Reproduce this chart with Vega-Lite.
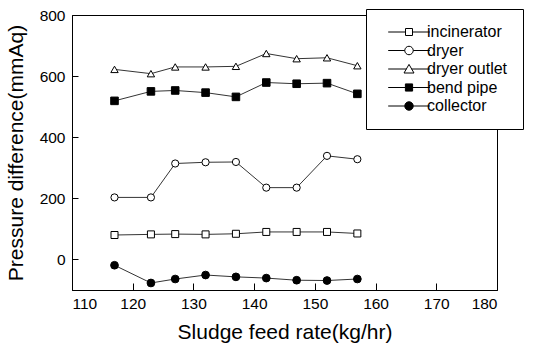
{
  "$schema": "https://vega.github.io/schema/vega-lite/v6.json",
  "width": 425,
  "height": 275,
  "autosize": "none",
  "padding": {"left": 72, "top": 15, "right": 44, "bottom": 53},
  "background": "white",
  "config": {
    "view": {"stroke": "black", "strokeWidth": 1},
    "font": "Liberation Sans"
  },
  "data": {"values": [
    {"rate": 117, "series": "incinerator", "dp": 80},
    {"rate": 123, "series": "incinerator", "dp": 82},
    {"rate": 127, "series": "incinerator", "dp": 83},
    {"rate": 132, "series": "incinerator", "dp": 82},
    {"rate": 137, "series": "incinerator", "dp": 84},
    {"rate": 142, "series": "incinerator", "dp": 90},
    {"rate": 147, "series": "incinerator", "dp": 90},
    {"rate": 152, "series": "incinerator", "dp": 90},
    {"rate": 157, "series": "incinerator", "dp": 85},
    {"rate": 117, "series": "dryer", "dp": 203},
    {"rate": 123, "series": "dryer", "dp": 203},
    {"rate": 127, "series": "dryer", "dp": 314},
    {"rate": 132, "series": "dryer", "dp": 318},
    {"rate": 137, "series": "dryer", "dp": 319},
    {"rate": 142, "series": "dryer", "dp": 235},
    {"rate": 147, "series": "dryer", "dp": 235},
    {"rate": 152, "series": "dryer", "dp": 339},
    {"rate": 157, "series": "dryer", "dp": 328},
    {"rate": 117, "series": "dryer outlet", "dp": 622},
    {"rate": 123, "series": "dryer outlet", "dp": 608},
    {"rate": 127, "series": "dryer outlet", "dp": 630},
    {"rate": 132, "series": "dryer outlet", "dp": 630},
    {"rate": 137, "series": "dryer outlet", "dp": 632},
    {"rate": 142, "series": "dryer outlet", "dp": 674},
    {"rate": 147, "series": "dryer outlet", "dp": 657},
    {"rate": 152, "series": "dryer outlet", "dp": 660},
    {"rate": 157, "series": "dryer outlet", "dp": 634},
    {"rate": 117, "series": "bend pipe", "dp": 519},
    {"rate": 123, "series": "bend pipe", "dp": 550},
    {"rate": 127, "series": "bend pipe", "dp": 553},
    {"rate": 132, "series": "bend pipe", "dp": 546},
    {"rate": 137, "series": "bend pipe", "dp": 532},
    {"rate": 142, "series": "bend pipe", "dp": 579},
    {"rate": 147, "series": "bend pipe", "dp": 575},
    {"rate": 152, "series": "bend pipe", "dp": 577},
    {"rate": 157, "series": "bend pipe", "dp": 542},
    {"rate": 117, "series": "collector", "dp": -19},
    {"rate": 123, "series": "collector", "dp": -77},
    {"rate": 127, "series": "collector", "dp": -64},
    {"rate": 132, "series": "collector", "dp": -51},
    {"rate": 137, "series": "collector", "dp": -57},
    {"rate": 142, "series": "collector", "dp": -61},
    {"rate": 147, "series": "collector", "dp": -68},
    {"rate": 152, "series": "collector", "dp": -69},
    {"rate": 157, "series": "collector", "dp": -64}
  ]},
  "encoding": {
    "x": {
      "field": "rate", "type": "quantitative",
      "scale": {"domain": [110, 180], "nice": false, "zero": false},
      "axis": {
        "values": [110, 120, 130, 140, 150, 160, 170, 180],
        "title": "Sludge feed rate(kg/hr)",
        "grid": false, "domain": true, "domainColor": "black", "zindex": 1,
        "ticks": true, "tickColor": "black", "tickWidth": 1, "tickOpacity": 1,
        "tickSize": -7, "labelPadding": 13,
        "labelFontSize": 15.5, "labelColor": "black",
        "titleFontSize": 21, "titleFontWeight": "normal", "titleColor": "black",
        "titlePadding": 10
      }
    },
    "y": {
      "field": "dp", "type": "quantitative",
      "scale": {"domain": [-100, 800], "nice": false, "zero": false},
      "axis": {
        "values": [0, 200, 400, 600, 800],
        "title": "Pressure difference(mmAq)",
        "grid": false, "domain": true, "domainColor": "black", "zindex": 1,
        "ticks": true, "tickColor": "black", "tickWidth": 1, "tickOpacity": 1,
        "tickSize": -6, "labelPadding": 13,
        "labelFontSize": 15.5, "labelColor": "black",
        "titleFontSize": 21, "titleFontWeight": "normal", "titleColor": "black",
        "titlePadding": 13
      }
    }
  },
  "layer": [
    {
      "mark": {"type": "line", "color": "black", "strokeWidth": 0.8},
      "encoding": {"detail": {"field": "series"}}
    },
    {
      "mark": {"type": "point", "filled": true, "stroke": "black", "strokeWidth": 1, "opacity": 1},
      "encoding": {
        "size": {
          "field": "series", "type": "nominal",
          "scale": {
            "domain": ["incinerator", "dryer", "dryer outlet", "bend pipe", "collector"],
            "range": [49, 60, 100, 56, 64]
          },
          "legend": null
        },
        "shape": {
          "field": "series", "type": "nominal",
          "scale": {
            "domain": ["incinerator", "dryer", "dryer outlet", "bend pipe", "collector"],
            "range": ["square", "circle", "triangle-up", "square", "circle"]
          },
          "legend": null
        },
        "fill": {
          "field": "series", "type": "nominal",
          "scale": {
            "domain": ["incinerator", "dryer", "dryer outlet", "bend pipe", "collector"],
            "range": ["white", "white", "white", "black", "black"]
          },
          "legend": null
        }
      }
    },
    {
      "transform": [{"filter": "datum.rate < 0"}],
      "mark": {"type": "point", "filled": true, "stroke": "black", "strokeWidth": 1, "opacity": 1},
      "encoding": {
        "shape": {
          "field": "series", "type": "nominal",
          "scale": {
            "domain": ["incinerator", "dryer", "dryer outlet", "bend pipe", "collector"],
            "range": [
              "M-5.2,0H-0.875M0.875,0H5.2M-0.875,-0.875H0.875V0.875H-0.875Z",
              "M-5.2,0H-1.06M1.06,0H5.2M-1.06,0A1.06,1.06 0 1,0 1.06,0A1.06,1.06 0 1,0 -1.06,0Z",
              "M-5.2,0H-0.62M0.62,0H5.2M-1.25,1.0L1.25,1.0L0,-1.15Z",
              "M-5.2,0H-0.9M0.9,0H5.2M-0.9,-0.9H0.9V0.9H-0.9Z",
              "M-5.2,0H-1.06M1.06,0H5.2M-1.06,0A1.06,1.06 0 1,0 1.06,0A1.06,1.06 0 1,0 -1.06,0Z"
            ]
          },
          "legend": {
            "orient": "none", "legendX": 294, "legendY": -6,
            "title": null,
            "strokeColor": "black", "fillColor": "white",
            "padding": 15, "rowPadding": 2.5,
            "symbolSize": 64, "symbolOffset": 20, "labelOffset": 10,
            "symbolFillColor": "white", "symbolStrokeWidth": 1,
            "labelFontSize": 16, "labelColor": "black"
          }
        },
        "fill": {
          "field": "series", "type": "nominal",
          "scale": {
            "domain": ["incinerator", "dryer", "dryer outlet", "bend pipe", "collector"],
            "range": ["white", "white", "white", "black", "black"]
          }
        }
      }
    }
  ],
  "resolve": {"scale": {"shape": "independent", "fill": "independent"}}
}
